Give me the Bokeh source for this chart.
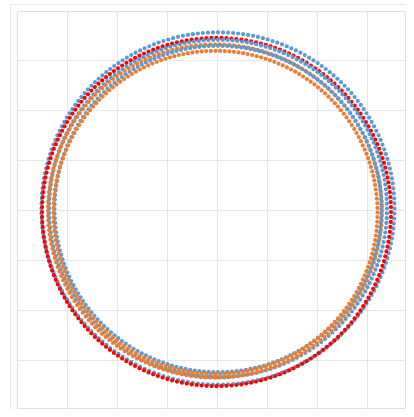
import numpy as np
from bokeh.plotting import figure
from bokeh.models import Range1d, ColumnDataSource
from bokeh.embed import file_html
from bokeh.resources import INLINE

# Ring parameters (data units; grid step = 1)
ring_colors = ["#5B9BD5", "#FF0000", "#5B9BD5", "#ED7D31", "#5B9BD5", "#ED7D31"]
ring_cx = [0.01, -0.02, 0.01, -0.05, 0.01, -0.04]
ring_cy = [0.04, -0.03, 0.04, -0.01, 0.03, -0.04]
ring_r = [3.53, 3.49, 3.38, 3.34, 3.27, 3.24]
ring_n = [220, 220, 220, 220, 220, 220]
grid_ticks = [-4, -3, -2, -1, 0, 1, 2, 3, 4]

p = figure(width=406, height=409, output_backend="svg", toolbar_location=None,
           x_range=Range1d(-4, -4 + 389 / 50), y_range=Range1d(-199 / 49.9, 199 / 49.9),
           min_border_left=17, min_border_right=0, min_border_top=11, min_border_bottom=0)
p.xaxis.ticker = grid_ticks
p.yaxis.ticker = grid_ticks
p.axis.visible = False
p.grid.grid_line_color = "#e6e6e6"
p.outline_line_color = "#e0e0e0"
p.background_fill_color = "white"
p.border_fill_color = None
p.styles = {
    "background": ("linear-gradient(#e6e6e6, #e6e6e6) 10px 4px / 1px 100% no-repeat, "
                   "linear-gradient(#e6e6e6, #e6e6e6) 10px 4px / 100% 1px no-repeat, white"),
}

for c, cx, cy, r, n in zip(ring_colors, ring_cx, ring_cy, ring_r, ring_n):
    t = np.linspace(0, 2 * np.pi, n, endpoint=False)
    src = ColumnDataSource(dict(x=cx + r * np.cos(t), y=cy + r * np.sin(t)))
    p.scatter("x", "y", source=src, size=4.2, fill_color=c, line_color=None)

open("out.html", "w").write(file_html(p, INLINE))
